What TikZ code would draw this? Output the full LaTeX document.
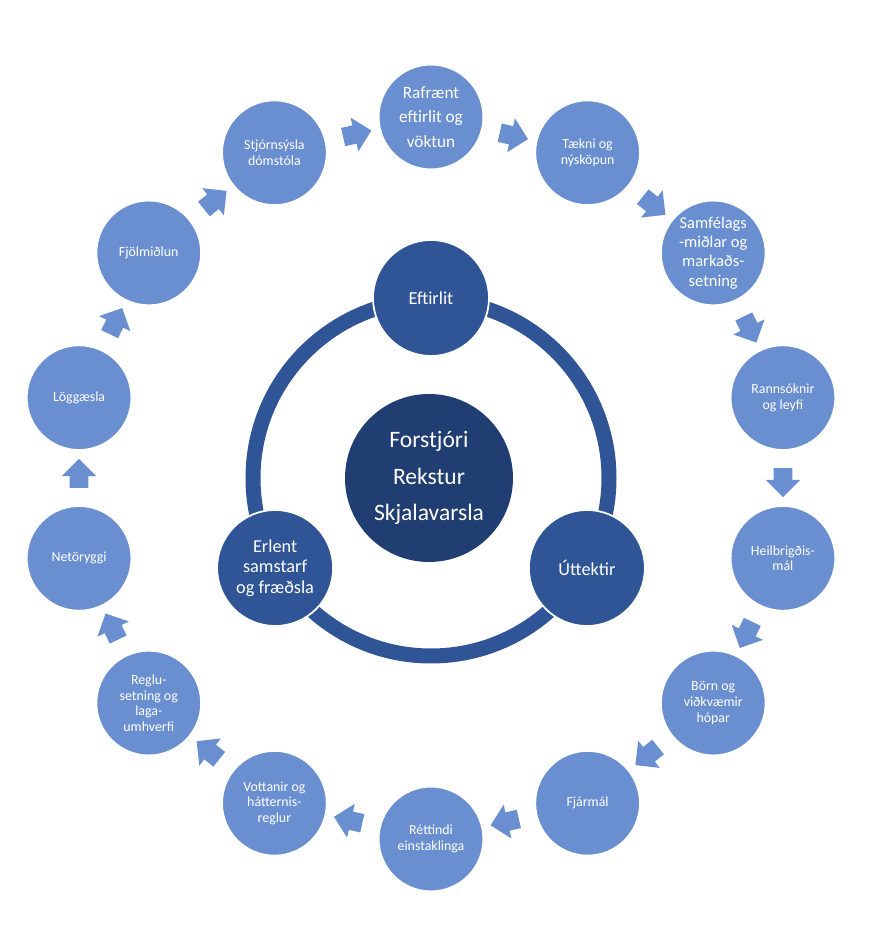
\documentclass[tikz,border=0pt]{standalone}
\usepackage{fontspec}
\setmainfont{Carlito}
\usepackage{tikz}
\usetikzlibrary{shapes.arrows, calc}

\definecolor{ringblue}{HTML}{2F5597}
\definecolor{coreblue}{HTML}{203E72}
\definecolor{outerblue}{HTML}{6A8FD0}

\tikzset{
  outer/.style={circle, fill=outerblue, draw=white, line width=0.6pt,
    minimum size=2.08cm, inner sep=0pt, align=center, text=white,
    font=\fontsize{7.9}{8.9}\selectfont},
  satellite/.style={circle, fill=ringblue, draw=white, line width=1pt,
    minimum size=2.32cm, inner sep=0pt, align=center, text=white,
    font=\fontsize{10.4}{11.8}\selectfont},
  core/.style={circle, fill=coreblue, minimum size=3.36cm, inner sep=0pt,
    align=center, text=white, font=\fontsize{13.4}{20.8}\selectfont},
  blockarrow/.style={single arrow, fill=outerblue, minimum height=0.58cm,
    minimum width=0.68cm, single arrow head extend=0.16cm,
    inner xsep=0pt, inner ysep=0.18cm}
}

\begin{document}
\begin{tikzpicture}
    % page size
    \useasboundingbox (-8.62,-9.44) rectangle (8.90,9.56);

    % inner ring with the three main tasks
    \draw[ringblue, line width=0.3cm] (0,0) circle (3.56cm);
    \node[core] (forstjori) at (-0.04,0) {Forstjóri\\Rekstur\\Skjalavarsla};
    \node[satellite] (eftirlit) at (90:3.6) {Eftirlit};
    \node[satellite] (uttektir) at (-30:3.6) {Úttektir};
    \node[satellite] (erlent) at (210:3.6) {Erlent\\samstarf\\og fræðsla};

    % outer cycle of fields
    \node[outer, font=\fontsize{9.8}{14}\selectfont] (rafraent) at (90:7.22) {Rafrænt\\eftirlit og\\vöktun};
    \node[outer] (taekni) at (64.29:7.22) {Tækni og\\nýsköpun};
    \node[outer, font=\fontsize{9.4}{11}\selectfont] (samfelags) at (38.57:7.22) {Samfélags\\-miðlar og\\markaðs-\\setning};
    \node[outer] (rannsoknir) at (12.86:7.22) {Rannsóknir\\og leyfi};
    \node[outer] (heilbrigdis) at (-12.86:7.22) {Heilbrigðis-\\mál};
    \node[outer] (born) at (-38.57:7.22) {Börn og\\viðkvæmir\\hópar};
    \node[outer] (fjarmal) at (-64.29:7.22) {Fjármál};
    \node[outer] (rettindi) at (-90:7.22) {Réttindi\\einstaklinga};
    \node[outer] (vottanir) at (-115.71:7.22) {Vottanir og\\hátternis-\\reglur};
    \node[outer] (reglusetning) at (-141.43:7.22) {Reglu-\\setning og\\laga-\\umhverfi};
    \node[outer] (netoryggi) at (-167.14:7.22) {Netöryggi};
    \node[outer] (loggaesla) at (167.14:7.22) {Löggæsla};
    \node[outer] (fjolmidlun) at (141.43:7.22) {Fjölmiðlun};
    \node[outer] (stjornsysla) at (115.71:7.22) {Stjórnsýsla\\dómstóla};

    % block arrows, clockwise
    \node[blockarrow, rotate=12.86] (ar1) at ($(stjornsysla)!0.5!(rafraent)$) {};
    \node[blockarrow, rotate=-12.86] (ar2) at ($(rafraent)!0.5!(taekni)$) {};
    \node[blockarrow, rotate=-38.57] (ar3) at ($(taekni)!0.5!(samfelags)$) {};
    \node[blockarrow, rotate=-64.29] (ar4) at ($(samfelags)!0.5!(rannsoknir)$) {};
    \node[blockarrow, rotate=-90] (ar5) at ($(rannsoknir)!0.5!(heilbrigdis)$) {};
    \node[blockarrow, rotate=-115.71] (ar6) at ($(heilbrigdis)!0.5!(born)$) {};
    \node[blockarrow, rotate=-141.43] (ar7) at ($(born)!0.5!(fjarmal)$) {};
    \node[blockarrow, rotate=-167.14] (ar8) at ($(fjarmal)!0.5!(rettindi)$) {};
    \node[blockarrow, rotate=167.14] (ar9) at ($(rettindi)!0.5!(vottanir)$) {};
    \node[blockarrow, rotate=141.43] (ar10) at ($(vottanir)!0.5!(reglusetning)$) {};
    \node[blockarrow, rotate=115.71] (ar11) at ($(reglusetning)!0.5!(netoryggi)$) {};
    \node[blockarrow, rotate=90] (ar12) at ($(netoryggi)!0.5!(loggaesla)$) {};
    \node[blockarrow, rotate=64.29] (ar13) at ($(loggaesla)!0.5!(fjolmidlun)$) {};
    \node[blockarrow, rotate=38.57] (ar14) at ($(fjolmidlun)!0.5!(stjornsysla)$) {};
\end{tikzpicture}
\end{document}
